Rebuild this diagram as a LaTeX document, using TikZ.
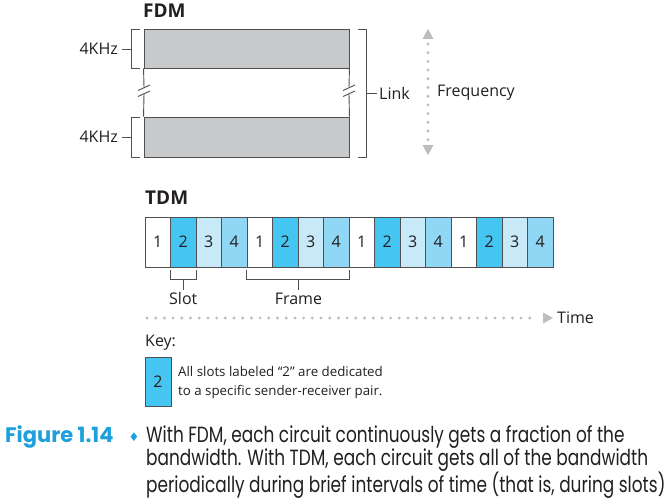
\documentclass[tikz,border=0pt]{standalone}
\usepackage{fontspec}
\setmainfont{Open Sans}
\newfontfamily\capfont[FakeStretch=0.77]{Poppins}
\newfontfamily\figfont[FakeStretch=1.0]{Poppins}
\newfontfamily\symfont{DejaVu Sans}
\usetikzlibrary{calc}
\definecolor{ink}{HTML}{231F20}
\definecolor{edge}{HTML}{505050}
\definecolor{bandgray}{HTML}{C8C9CA}
\definecolor{blueA}{HTML}{45C6F2}
\definecolor{blueB}{HTML}{C7E9F8}
\definecolor{blueC}{HTML}{8FD7F5}
\definecolor{dotgray}{HTML}{BDBDBD}
\definecolor{capblue}{HTML}{1DA1DC}
\tikzset{
  lbl/.style={inner sep=0pt, text=ink, font=\fontsize{16}{18}\selectfont},
  ttl/.style={inner sep=0pt, text=ink, font=\fontsize{19}{21}\selectfont\bfseries},
  band/.style={draw=edge, line width=0.9pt, fill=bandgray, inner sep=0pt},
  slotbox/.style={draw=edge, line width=0.9pt, inner sep=0pt, minimum width=25.5pt, minimum height=50pt, text=ink, font=\fontsize{16}{18}\selectfont},
  brk/.style={draw=edge, line width=0.9pt},
  dotline/.style={dotgray, line width=3.2pt, line cap=round, dash pattern=on 0pt off 8.7pt},
  captxt/.style={inner sep=0pt, text=ink, font=\capfont\fontsize{22}{23}\selectfont, align=left, anchor=north west},
}
\begin{document}
\begin{tikzpicture}[x=1pt,y=-1pt]
\useasboundingbox[fill=white] (0,0) rectangle (670,503);

% ---------------- FDM ----------------
\node[ttl, anchor=west] (fdm) at (143,11) {FDM};
\node[band, minimum width=205pt, minimum height=39pt] (b1) at (246.5,48.5) {};
\node[band, minimum width=205pt, minimum height=40pt] (b2) at (246.5,137) {};
% side lines with break marks
\draw[brk] (b1.south west) -- (144,87.5);
\draw[brk] (144,93.5) -- (b2.north west);
\draw[brk] (b1.south east) -- (349,87.5);
\draw[brk] (349,93.5) -- (b2.north east);
\draw[brk] (138,90.5) -- (150,85);
\draw[brk] (138,96.5) -- (150,91);
\draw[brk] (343,90.5) -- (355,85);
\draw[brk] (343,96.5) -- (355,91);
% left brackets
\draw[brk] (140,29) -- (131,29) -- (131,68) -- (140,68);
\draw[brk] (140,117) -- (131,117) -- (131,157) -- (140,157);
\node[lbl, anchor=east] (k1) at (118,49) {4KHz};
\node[lbl, anchor=east] (k2) at (118,137) {4KHz};
\draw[brk] (k1.east) ++(4,0) -- (131,49);
\draw[brk] (k2.east) ++(4,0) -- (131,137);
% right bracket
\draw[brk] (358,29) -- (366,29) -- (366,157) -- (358,157);
\node[lbl, anchor=west] (link) at (379,93) {Link};
\draw[brk] (366,93) -- ($(link.west)+(-2,0)$);
% frequency arrow
\coordinate (fa) at (428,44);
\coordinate (fb) at (428,141);
\draw[dotline] (fa) -- (fb);
\fill[dotgray] (428,29) -- (433.5,39) -- (422.5,39) -- cycle;
\fill[dotgray] (428,155) -- (433.5,145) -- (422.5,145) -- cycle;
\node[lbl, anchor=west] (freq) at (437,93) {Frequency};

% ---------------- TDM ----------------
\node[ttl, anchor=west] (tdm) at (145,198) {TDM};
\foreach \i in {1,...,16}{
  \pgfmathtruncatemacro{\k}{mod(\i-1,4)+1}
  \ifcase\k\or\def\fc{white}\or\def\fc{blueA}\or\def\fc{blueB}\or\def\fc{blueC}\fi
  \node[slotbox, fill=\fc] (s\i) at ({145+25.5*(\i-0.5)},242) {\k};
}
% slot bracket
\draw[brk] ($(s2.south west)+(0,3)$) -- ++(0,9) -- ($(s2.south east)+(0,12)$) -- ++(0,-9);
\node[lbl] (slot) at ($(s2.south)+(0,31)$) {Slot};
\draw[brk] ($(s2.south)+(0,12)$) -- ($(slot.north)+(0,-2)$);
% frame bracket
\draw[brk] ($(s5.south west)+(0,3)$) -- ++(0,9) -- ($(s8.south east)+(0,12)$) -- ++(0,-9);
\node[lbl] (frame) at ($(s6.south east)+(0,31)$) {Frame};
\draw[brk] ($(s6.south east)+(0,12)$) -- ($(frame.north)+(0,-2)$);
% time arrow
\coordinate (ta) at (147,318);
\coordinate (tb) at (538,318);
\draw[dotline] (ta) -- (tb);
\fill[dotgray] (553,318) -- (543,312.5) -- (543,323.5) -- cycle;
\node[lbl, anchor=west] (time) at (557,318) {Time};

% ---------------- Key ----------------
\node[lbl, anchor=west] (key) at (145,343) {Key:};
\node[slotbox, fill=blueA, minimum width=26pt, minimum height=49pt] (kb) at (158,382) {2};
\node[inner sep=0pt, text=ink, font=\fontsize{13.3}{19}\selectfont, align=left, anchor=west] (ktxt) at (178,382.5)
  {All slots labeled “2” are dedicated\\to a specific sender-receiver pair.};

% ---------------- Caption ----------------
\node[inner sep=0pt, anchor=west, text=capblue, font=\figfont\fontsize{21}{23}\selectfont\bfseries] (fig) at (5,437) {Figure 1.14};
\node[inner sep=0pt, anchor=center, text=capblue, font=\symfont\fontsize{12}{12}\selectfont] (dia) at (134,437) {♦};
\node[captxt] (cap) at (146,425)
  {With FDM, each circuit continuously gets a fraction of the\\
   bandwidth. With TDM, each circuit gets all of the bandwidth\\
   periodically during brief intervals of time (that is, during slots)};
\end{tikzpicture}
\end{document}
